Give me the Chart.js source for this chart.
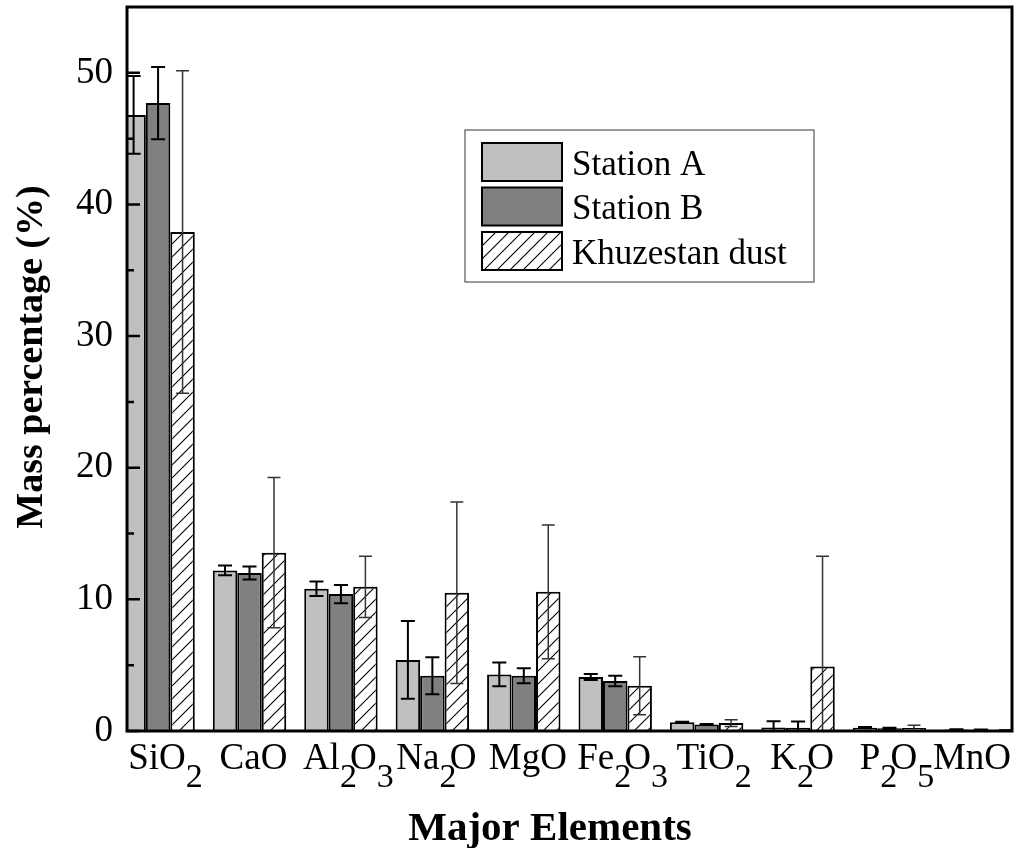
<!DOCTYPE html>
<html>
<head>
<meta charset="utf-8">
<title>Major elements – mass percentage</title>
<script src="https://cdn.jsdelivr.net/npm/chart.js@4.4.1/dist/chart.umd.min.js"></script>
<style>
  html, body { margin: 0; padding: 0; background: #fff; }
  #wrap { position: relative; width: 1016px; height: 848px; }
</style>
</head>
<body>
<div id="wrap"><canvas id="elementsChart"></canvas></div>
<script>
/* =============================================================
   Major element composition of dust samples
   Grouped bars (Station A / Station B / Khuzestan dust) with
   ± error bars, oxide formulas drawn with subscripts.
   ============================================================= */

// -----------------------------------------------------------------
// DATA
// -----------------------------------------------------------------
const categories = ["SiO2", "CaO", "Al2O3", "Na2O", "MgO", "Fe2O3", "TiO2", "K2O", "P2O5", "MnO"];

const stationA    = [46.8, 12.2, 10.8, 5.4, 4.3, 4.1, 0.66, 0.26, 0.25, 0.12];
const stationAErr = [2.95, 0.37, 0.55, 2.95, 0.9, 0.23, 0.05, 0.48, 0.05, 0.02];

const stationB    = [47.7, 12.0, 10.4, 4.2, 4.2, 3.8, 0.5, 0.24, 0.2, 0.1];
const stationBErr = [2.75, 0.5, 0.7, 1.4, 0.57, 0.4, 0.03, 0.48, 0.04, 0.02];

const dust        = [37.9, 13.55, 10.95, 10.5, 10.57, 3.44, 0.6, 4.9, 0.22, 0.06];
const dustErr     = [12.25, 5.7, 2.33, 6.9, 5.08, 2.2, 0.26, 8.37, 0.22, 0.03];

const seriesNames = ["Station A", "Station B", "Khuzestan dust"];

const yTicks      = [0, 10, 20, 30, 40, 50];
const yMinorTicks = [5, 15, 25, 35, 45];

const xTitle = "Major Elements";
const yTitle = "Mass percentage (%)";

// -----------------------------------------------------------------
// STYLE
// -----------------------------------------------------------------
const SERIF       = "'Liberation Serif', 'Times New Roman', serif";
const LABEL_FONT  = `37px ${SERIF}`;
const SUB_FONT    = `34px ${SERIF}`;
const TITLE_FONT  = `bold 41px ${SERIF}`;
const YTITLE_FONT = `bold 38px ${SERIF}`;
const LEGEND_FONT = `35px ${SERIF}`;

// diagonal "/" hatch used for the dust series
const makeHatch = () => {
  const size = 13;
  const c = document.createElement("canvas");
  c.width = c.height = size;
  const g = c.getContext("2d");
  g.fillStyle = "#fff";
  g.fillRect(0, 0, size, size);
  g.strokeStyle = "#000";
  g.lineWidth = 1.1;
  g.beginPath();
  g.moveTo(-1, size + 1); g.lineTo(size + 1, -1);
  g.moveTo(-1, 1);        g.lineTo(1, -1);
  g.moveTo(size - 1, size + 1); g.lineTo(size + 1, size - 1);
  g.stroke();
  return g.createPattern(c, "repeat");
};
const hatch = makeHatch();

const toPoints = (values) => values.map((v, i) => ({ x: i, y: v }));

// -----------------------------------------------------------------
// PLUGIN — error bars (drawn over the bars, clipped to the plot)
// -----------------------------------------------------------------
const errorBarPlugin = {
  id: "errorBars",
  afterDatasetsDraw(chart) {
    const { ctx, chartArea: a, scales: { y } } = chart;
    ctx.save();
    ctx.beginPath();
    ctx.rect(a.left, a.top, a.right - a.left, a.bottom - a.top);
    ctx.clip();

    chart.data.datasets.forEach((ds, di) => {
      const meta = chart.getDatasetMeta(di);
      const st = ds.errorStyle;
      ctx.strokeStyle = st.color;
      ctx.lineWidth = st.width;

      meta.data.forEach((bar, i) => {
        const v = ds.data[i].y;
        const e = ds.errors[i];
        const yHi = y.getPixelForValue(v + e);
        const yLo = y.getPixelForValue(v - e);
        const x = bar.x;
        ctx.beginPath();
        ctx.moveTo(x, yHi); ctx.lineTo(x, yLo);
        ctx.moveTo(x - st.cap / 2, yHi); ctx.lineTo(x + st.cap / 2, yHi);
        ctx.moveTo(x - st.cap / 2, yLo); ctx.lineTo(x + st.cap / 2, yLo);
        ctx.stroke();
      });
    });
    ctx.restore();
  },
};

// -----------------------------------------------------------------
// PLUGIN — frame, inward ticks, formula labels, titles, legend
// -----------------------------------------------------------------
const drawFormula = (ctx, text, cx, baseY, rightLimit) => {
  const runs = text.match(/[A-Za-z]+|\d+/g).map((t) => ({ t, sub: /\d/.test(t) }));
  runs.forEach((r) => {
    ctx.font = r.sub ? SUB_FONT : LABEL_FONT;
    r.w = ctx.measureText(r.t).width;
    r.adv = r.sub ? r.w * 0.6 : r.w;
  });
  const total = runs.reduce((s, r) => s + r.adv, 0);
  let x = Math.min(cx - total / 2 + 4, rightLimit - total);
  runs.forEach((r) => {
    ctx.font = r.sub ? SUB_FONT : LABEL_FONT;
    ctx.fillText(r.t, x, r.sub ? baseY + 18 : baseY);
    x += r.adv;
  });
};

const decorPlugin = {
  id: "decor",
  afterDraw(chart) {
    const { ctx, chartArea: a, scales: { x, y } } = chart;
    ctx.save();
    ctx.fillStyle = "#000";
    ctx.strokeStyle = "#000";

    // plot frame
    ctx.lineWidth = 3;
    ctx.strokeRect(a.left, a.top, a.right - a.left, a.bottom - a.top);

    // inward major / minor ticks on the value axis
    ctx.lineWidth = 2.5;
    ctx.beginPath();
    yTicks.forEach((v) => {
      const py = y.getPixelForValue(v);
      ctx.moveTo(a.left, py); ctx.lineTo(a.left + 13, py);
    });
    yMinorTicks.forEach((v) => {
      const py = y.getPixelForValue(v);
      ctx.moveTo(a.left, py); ctx.lineTo(a.left + 7, py);
    });
    ctx.stroke();

    // oxide labels with subscripts
    ctx.textAlign = "left";
    ctx.textBaseline = "alphabetic";
    categories.forEach((c, i) => {
      drawFormula(ctx, c, x.getPixelForValue(i), a.bottom + 38, a.right - 1);
    });

    // axis titles
    ctx.textAlign = "center";
    ctx.font = TITLE_FONT;
    ctx.fillText(xTitle, 550, 840);

    ctx.save();
    ctx.translate(42, 357);
    ctx.rotate(-Math.PI / 2);
    ctx.font = YTITLE_FONT;
    ctx.fillText(yTitle, 0, 0);
    ctx.restore();

    // legend box
    const lx = 465, ly = 130, lw = 349, lh = 152;
    ctx.lineWidth = 1.2;
    ctx.strokeStyle = "#555";
    ctx.strokeRect(lx, ly, lw, lh);

    ctx.textAlign = "left";
    ctx.font = LEGEND_FONT;
    chart.data.datasets.forEach((ds, i) => {
      const top = 143 + i * 44.5;
      ctx.fillStyle = ds.backgroundColor;
      ctx.fillRect(482, top, 80, 38);
      ctx.strokeStyle = "#000";
      ctx.lineWidth = 2;
      ctx.strokeRect(482, top, 80, 38);
      ctx.fillStyle = "#000";
      ctx.fillText(ds.label, 572, top + 31.5);
    });

    ctx.restore();
  },
};

// -----------------------------------------------------------------
// CHART
// -----------------------------------------------------------------
const barBase = {
  borderColor: "#000",
  borderWidth: 2,
  categoryPercentage: 0.803,
  barPercentage: 1.0,
};

new Chart(document.getElementById("elementsChart").getContext("2d"), {
  type: "bar",
  data: {
    datasets: [
      {
        ...barBase,
        label: seriesNames[0],
        data: toPoints(stationA),
        errors: stationAErr,
        backgroundColor: "#c0c0c0",
        errorStyle: { color: "#000", width: 2, cap: 14 },
      },
      {
        ...barBase,
        label: seriesNames[1],
        data: toPoints(stationB),
        errors: stationBErr,
        backgroundColor: "#808080",
        errorStyle: { color: "#000", width: 2, cap: 14 },
      },
      {
        ...barBase,
        label: seriesNames[2],
        data: toPoints(dust),
        errors: dustErr,
        backgroundColor: hatch,
        errorStyle: { color: "#333", width: 1.5, cap: 13 },
      },
    ],
  },
  options: {
    responsive: true,
    maintainAspectRatio: false,
    animation: false,
    layout: { padding: { top: 7, right: 4, left: 0, bottom: 0 } },
    plugins: {
      legend:  { display: false },
      tooltip: { enabled: false },
    },
    scales: {
      x: {
        type: "linear",
        offset: false,
        min: -0.34,
        max: 9.34,
        grid:   { display: false, drawTicks: false },
        border: { display: false },
        ticks:  { display: false },
        afterFit: (s) => { s.height = 117; s.paddingLeft = 0; s.paddingRight = 0; },
      },
      y: {
        min: 0,
        max: 55,
        grid:   { display: false, drawTicks: false },
        border: { display: false },
        afterBuildTicks: (s) => { s.ticks = yTicks.map((v) => ({ value: v })); },
        ticks: {
          padding: 14,
          color: "#000",
          font: { family: SERIF, size: 37 },
        },
        afterFit: (s) => { s.width = 127; s.paddingTop = 0; s.paddingBottom = 0; },
      },
    },
  },
  plugins: [errorBarPlugin, decorPlugin],
});
</script>
</body>
</html>
